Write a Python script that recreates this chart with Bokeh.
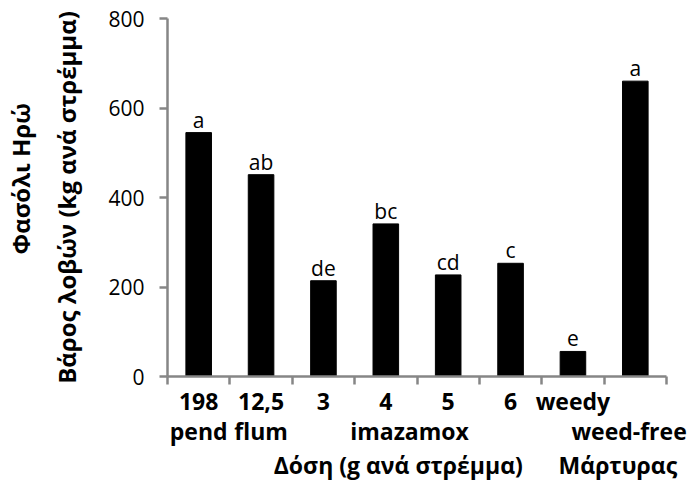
import numpy as np
from bokeh.plotting import figure
from bokeh.models import FixedTicker, LinearAxis, Range1d
from bokeh.core.properties import value
from bokeh.embed import file_html
from bokeh.resources import INLINE

# ---- data ----
categories = ["198 pend", "12,5 flum", "3 imazamox", "4 imazamox",
              "5 imazamox", "6 imazamox", "weedy", "weed-free"]
yields = [545, 451, 214, 341, 227, 253, 56, 660]
letters = ["a", "ab", "de", "bc", "cd", "c", "e", "a"]
row1_labels = ["198", "12,5", "3", "4", "5", "6", "weedy", ""]
row2_labels = ["pend", "flum", "imazamox", "weed-free"]
row3_labels = ["Δόση (g ανά στρέμμα)", "Μάρτυρας"]
y_ticks = [0, 200, 400, 600, 800]
y_title_1 = "Φασόλι Ηρώ"
y_title_2 = "Βάρος λοβών (kg ανά στρέμμα)"

# ---- layout constants ----
FONT = "Open Sans"
AX = "#868686"
n = len(categories)
centers = [i + 0.5 for i in range(n)]
row2_x = [0.5, 1.5, 3.88, 7.4]
row3_x = [3.7, 7.22]

fw, fh = 499, 358
p = figure(width=166 + fw + 30, height=18 + fh + 106,
           frame_width=fw, frame_height=fh,
           min_border_left=166, min_border_right=30,
           min_border_top=18, min_border_bottom=106,
           x_range=Range1d(0, n), y_range=Range1d(0, 800),
           x_axis_location=None,
           output_backend="svg", toolbar_location=None)
p.outline_line_color = None
p.xgrid.grid_line_color = None
p.ygrid.grid_line_color = None
p.background_fill_color = "white"
p.border_fill_color = "white"

p.vbar(x=centers, top=yields, bottom=0, width=0.41, color="black")
p.text(x=centers, y=yields, text=letters, text_align="center",
       text_baseline="alphabetic", y_offset=-13,
       text_font=value(FONT), text_font_size="21px", text_color="black")

# y axis
ya = p.yaxis[0]
ya.ticker = FixedTicker(ticks=y_ticks)
ya.axis_line_color = AX
ya.axis_line_width = 2.5
ya.major_tick_line_color = AX
ya.major_tick_line_width = 2.5
ya.major_tick_out = 8
ya.major_tick_in = 0
ya.minor_tick_line_color = None
ya.major_label_text_font = FONT
ya.major_label_text_font_size = "21px"
ya.major_label_text_color = "black"
ya.major_label_standoff = 15
ya.axis_label = y_title_2
ya.axis_label_text_font = FONT
ya.axis_label_text_font_size = "24px"
ya.axis_label_text_font_style = "bold"
ya.axis_label_text_color = "black"
ya.axis_label_standoff = 22

# first title line, nudged upward like the original with leading no-break spaces
ya2 = LinearAxis(ticker=FixedTicker(ticks=[]), axis_line_color=None,
                 major_tick_line_color=None, minor_tick_line_color=None,
                 axis_label="\u00a0" * 6 + y_title_1, axis_label_standoff=11,
                 axis_label_text_font=FONT, axis_label_text_font_size="24px",
                 axis_label_text_font_style="bold", axis_label_text_color="black")
p.add_layout(ya2, "left")

XFS = "23px"
# x axis: row 1 labels at centres, separators as minor ticks
xa = LinearAxis(ticker=FixedTicker(ticks=centers, minor_ticks=list(range(n + 1))),
                major_label_overrides={c: t for c, t in zip(centers, row1_labels)},
                axis_line_color=AX, axis_line_width=2.5,
                major_tick_line_color=None,
                minor_tick_line_color=AX, minor_tick_line_width=2.5,
                minor_tick_out=8, minor_tick_in=0,
                major_tick_out=0, major_tick_in=0,
                major_label_standoff=0,
                major_label_text_font=FONT, major_label_text_font_size=XFS,
                major_label_text_font_style="bold", major_label_text_color="black")
p.add_layout(xa, "below")

def row_axis(xs, labels, standoff):
    return LinearAxis(ticker=FixedTicker(ticks=xs),
                      major_label_overrides={x: t for x, t in zip(xs, labels)},
                      axis_line_color=None, major_tick_line_color=None,
                      minor_tick_line_color=None,
                      major_tick_out=0, major_tick_in=0,
                      major_label_standoff=standoff,
                      major_label_text_font=FONT, major_label_text_font_size=XFS,
                      major_label_text_font_style="bold",
                      major_label_text_color="black")

p.add_layout(row_axis(row2_x, row2_labels, -5), "below")
p.add_layout(row_axis(row3_x, row3_labels, -1), "below")

open("out.html", "w").write(file_html(p, INLINE))
